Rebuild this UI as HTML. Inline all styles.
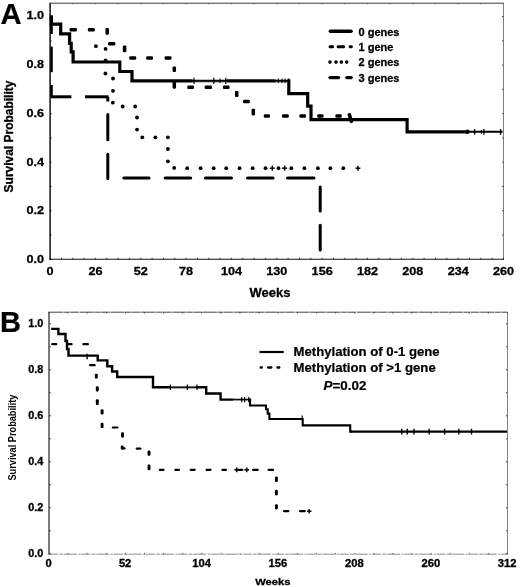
<!DOCTYPE html>
<html><head><meta charset="utf-8"><title>Survival curves</title>
<style>
html,body{margin:0;padding:0;background:#fff;}
body{width:520px;height:587px;overflow:hidden;font-family:"Liberation Sans",sans-serif;}
svg{display:block;filter:grayscale(1);}
text{font-family:"Liberation Sans",sans-serif;}
</style></head><body>
<svg width="520" height="587" viewBox="0 0 520 587">
<rect x="0" y="0" width="520" height="587" fill="#fff"/>
<line x1="50.1" y1="3.2" x2="503.5" y2="3.2" stroke="#3a3a3a" stroke-width="1.0" stroke-linecap="butt"/>
<line x1="503.5" y1="3.2" x2="503.5" y2="259.3" stroke="#707070" stroke-width="0.9" stroke-linecap="butt"/>
<line x1="50.1" y1="2.7" x2="50.1" y2="259.8" stroke="#000" stroke-width="1.4" stroke-linecap="butt"/>
<line x1="49.4" y1="259.3" x2="504.0" y2="259.3" stroke="#111" stroke-width="1.05" stroke-linecap="butt"/>
<line x1="50.1" y1="257.8" x2="50.1" y2="259.3" stroke="#222" stroke-width="0.9" stroke-linecap="butt"/>
<line x1="50.1" y1="3.2" x2="50.1" y2="4.300000000000001" stroke="#555" stroke-width="0.9" stroke-linecap="butt"/>
<line x1="61.435" y1="257.8" x2="61.435" y2="259.3" stroke="#222" stroke-width="0.9" stroke-linecap="butt"/>
<line x1="72.77" y1="257.8" x2="72.77" y2="259.3" stroke="#222" stroke-width="0.9" stroke-linecap="butt"/>
<line x1="72.77" y1="3.2" x2="72.77" y2="4.300000000000001" stroke="#555" stroke-width="0.9" stroke-linecap="butt"/>
<line x1="84.10499999999999" y1="257.8" x2="84.10499999999999" y2="259.3" stroke="#222" stroke-width="0.9" stroke-linecap="butt"/>
<line x1="95.44" y1="257.8" x2="95.44" y2="259.3" stroke="#222" stroke-width="0.9" stroke-linecap="butt"/>
<line x1="95.44" y1="3.2" x2="95.44" y2="4.300000000000001" stroke="#555" stroke-width="0.9" stroke-linecap="butt"/>
<line x1="106.775" y1="257.8" x2="106.775" y2="259.3" stroke="#222" stroke-width="0.9" stroke-linecap="butt"/>
<line x1="118.10999999999999" y1="257.8" x2="118.10999999999999" y2="259.3" stroke="#222" stroke-width="0.9" stroke-linecap="butt"/>
<line x1="118.10999999999999" y1="3.2" x2="118.10999999999999" y2="4.300000000000001" stroke="#555" stroke-width="0.9" stroke-linecap="butt"/>
<line x1="129.445" y1="257.8" x2="129.445" y2="259.3" stroke="#222" stroke-width="0.9" stroke-linecap="butt"/>
<line x1="140.78" y1="257.8" x2="140.78" y2="259.3" stroke="#222" stroke-width="0.9" stroke-linecap="butt"/>
<line x1="140.78" y1="3.2" x2="140.78" y2="4.300000000000001" stroke="#555" stroke-width="0.9" stroke-linecap="butt"/>
<line x1="152.11499999999998" y1="257.8" x2="152.11499999999998" y2="259.3" stroke="#222" stroke-width="0.9" stroke-linecap="butt"/>
<line x1="163.45" y1="257.8" x2="163.45" y2="259.3" stroke="#222" stroke-width="0.9" stroke-linecap="butt"/>
<line x1="163.45" y1="3.2" x2="163.45" y2="4.300000000000001" stroke="#555" stroke-width="0.9" stroke-linecap="butt"/>
<line x1="174.785" y1="257.8" x2="174.785" y2="259.3" stroke="#222" stroke-width="0.9" stroke-linecap="butt"/>
<line x1="186.11999999999998" y1="257.8" x2="186.11999999999998" y2="259.3" stroke="#222" stroke-width="0.9" stroke-linecap="butt"/>
<line x1="186.11999999999998" y1="3.2" x2="186.11999999999998" y2="4.300000000000001" stroke="#555" stroke-width="0.9" stroke-linecap="butt"/>
<line x1="197.45499999999998" y1="257.8" x2="197.45499999999998" y2="259.3" stroke="#222" stroke-width="0.9" stroke-linecap="butt"/>
<line x1="208.79" y1="257.8" x2="208.79" y2="259.3" stroke="#222" stroke-width="0.9" stroke-linecap="butt"/>
<line x1="208.79" y1="3.2" x2="208.79" y2="4.300000000000001" stroke="#555" stroke-width="0.9" stroke-linecap="butt"/>
<line x1="220.125" y1="257.8" x2="220.125" y2="259.3" stroke="#222" stroke-width="0.9" stroke-linecap="butt"/>
<line x1="231.45999999999998" y1="257.8" x2="231.45999999999998" y2="259.3" stroke="#222" stroke-width="0.9" stroke-linecap="butt"/>
<line x1="231.45999999999998" y1="3.2" x2="231.45999999999998" y2="4.300000000000001" stroke="#555" stroke-width="0.9" stroke-linecap="butt"/>
<line x1="242.795" y1="257.8" x2="242.795" y2="259.3" stroke="#222" stroke-width="0.9" stroke-linecap="butt"/>
<line x1="254.12999999999997" y1="257.8" x2="254.12999999999997" y2="259.3" stroke="#222" stroke-width="0.9" stroke-linecap="butt"/>
<line x1="254.12999999999997" y1="3.2" x2="254.12999999999997" y2="4.300000000000001" stroke="#555" stroke-width="0.9" stroke-linecap="butt"/>
<line x1="265.465" y1="257.8" x2="265.465" y2="259.3" stroke="#222" stroke-width="0.9" stroke-linecap="butt"/>
<line x1="276.8" y1="257.8" x2="276.8" y2="259.3" stroke="#222" stroke-width="0.9" stroke-linecap="butt"/>
<line x1="276.8" y1="3.2" x2="276.8" y2="4.300000000000001" stroke="#555" stroke-width="0.9" stroke-linecap="butt"/>
<line x1="288.135" y1="257.8" x2="288.135" y2="259.3" stroke="#222" stroke-width="0.9" stroke-linecap="butt"/>
<line x1="299.46999999999997" y1="257.8" x2="299.46999999999997" y2="259.3" stroke="#222" stroke-width="0.9" stroke-linecap="butt"/>
<line x1="299.46999999999997" y1="3.2" x2="299.46999999999997" y2="4.300000000000001" stroke="#555" stroke-width="0.9" stroke-linecap="butt"/>
<line x1="310.805" y1="257.8" x2="310.805" y2="259.3" stroke="#222" stroke-width="0.9" stroke-linecap="butt"/>
<line x1="322.14" y1="257.8" x2="322.14" y2="259.3" stroke="#222" stroke-width="0.9" stroke-linecap="butt"/>
<line x1="322.14" y1="3.2" x2="322.14" y2="4.300000000000001" stroke="#555" stroke-width="0.9" stroke-linecap="butt"/>
<line x1="333.475" y1="257.8" x2="333.475" y2="259.3" stroke="#222" stroke-width="0.9" stroke-linecap="butt"/>
<line x1="344.81" y1="257.8" x2="344.81" y2="259.3" stroke="#222" stroke-width="0.9" stroke-linecap="butt"/>
<line x1="344.81" y1="3.2" x2="344.81" y2="4.300000000000001" stroke="#555" stroke-width="0.9" stroke-linecap="butt"/>
<line x1="356.14500000000004" y1="257.8" x2="356.14500000000004" y2="259.3" stroke="#222" stroke-width="0.9" stroke-linecap="butt"/>
<line x1="367.48" y1="257.8" x2="367.48" y2="259.3" stroke="#222" stroke-width="0.9" stroke-linecap="butt"/>
<line x1="367.48" y1="3.2" x2="367.48" y2="4.300000000000001" stroke="#555" stroke-width="0.9" stroke-linecap="butt"/>
<line x1="378.815" y1="257.8" x2="378.815" y2="259.3" stroke="#222" stroke-width="0.9" stroke-linecap="butt"/>
<line x1="390.15000000000003" y1="257.8" x2="390.15000000000003" y2="259.3" stroke="#222" stroke-width="0.9" stroke-linecap="butt"/>
<line x1="390.15000000000003" y1="3.2" x2="390.15000000000003" y2="4.300000000000001" stroke="#555" stroke-width="0.9" stroke-linecap="butt"/>
<line x1="401.485" y1="257.8" x2="401.485" y2="259.3" stroke="#222" stroke-width="0.9" stroke-linecap="butt"/>
<line x1="412.82" y1="257.8" x2="412.82" y2="259.3" stroke="#222" stroke-width="0.9" stroke-linecap="butt"/>
<line x1="412.82" y1="3.2" x2="412.82" y2="4.300000000000001" stroke="#555" stroke-width="0.9" stroke-linecap="butt"/>
<line x1="424.155" y1="257.8" x2="424.155" y2="259.3" stroke="#222" stroke-width="0.9" stroke-linecap="butt"/>
<line x1="435.49" y1="257.8" x2="435.49" y2="259.3" stroke="#222" stroke-width="0.9" stroke-linecap="butt"/>
<line x1="435.49" y1="3.2" x2="435.49" y2="4.300000000000001" stroke="#555" stroke-width="0.9" stroke-linecap="butt"/>
<line x1="446.82500000000005" y1="257.8" x2="446.82500000000005" y2="259.3" stroke="#222" stroke-width="0.9" stroke-linecap="butt"/>
<line x1="458.15999999999997" y1="257.8" x2="458.15999999999997" y2="259.3" stroke="#222" stroke-width="0.9" stroke-linecap="butt"/>
<line x1="458.15999999999997" y1="3.2" x2="458.15999999999997" y2="4.300000000000001" stroke="#555" stroke-width="0.9" stroke-linecap="butt"/>
<line x1="469.495" y1="257.8" x2="469.495" y2="259.3" stroke="#222" stroke-width="0.9" stroke-linecap="butt"/>
<line x1="480.83" y1="257.8" x2="480.83" y2="259.3" stroke="#222" stroke-width="0.9" stroke-linecap="butt"/>
<line x1="480.83" y1="3.2" x2="480.83" y2="4.300000000000001" stroke="#555" stroke-width="0.9" stroke-linecap="butt"/>
<line x1="492.165" y1="257.8" x2="492.165" y2="259.3" stroke="#222" stroke-width="0.9" stroke-linecap="butt"/>
<line x1="503.5" y1="257.8" x2="503.5" y2="259.3" stroke="#222" stroke-width="0.9" stroke-linecap="butt"/>
<line x1="503.5" y1="3.2" x2="503.5" y2="4.300000000000001" stroke="#555" stroke-width="0.9" stroke-linecap="butt"/>
<line x1="50.1" y1="259.3" x2="51.6" y2="259.3" stroke="#000" stroke-width="0.8" stroke-linecap="butt"/>
<line x1="502.1" y1="259.3" x2="503.5" y2="259.3" stroke="#444" stroke-width="1.0" stroke-linecap="butt"/>
<line x1="50.1" y1="235.02" x2="51.6" y2="235.02" stroke="#000" stroke-width="0.8" stroke-linecap="butt"/>
<line x1="502.1" y1="235.02" x2="503.5" y2="235.02" stroke="#444" stroke-width="1.0" stroke-linecap="butt"/>
<line x1="50.1" y1="210.74" x2="51.6" y2="210.74" stroke="#000" stroke-width="0.8" stroke-linecap="butt"/>
<line x1="502.1" y1="210.74" x2="503.5" y2="210.74" stroke="#444" stroke-width="1.0" stroke-linecap="butt"/>
<line x1="50.1" y1="186.45999999999998" x2="51.6" y2="186.45999999999998" stroke="#000" stroke-width="0.8" stroke-linecap="butt"/>
<line x1="502.1" y1="186.45999999999998" x2="503.5" y2="186.45999999999998" stroke="#444" stroke-width="1.0" stroke-linecap="butt"/>
<line x1="50.1" y1="162.18" x2="51.6" y2="162.18" stroke="#000" stroke-width="0.8" stroke-linecap="butt"/>
<line x1="502.1" y1="162.18" x2="503.5" y2="162.18" stroke="#444" stroke-width="1.0" stroke-linecap="butt"/>
<line x1="50.1" y1="137.9" x2="51.6" y2="137.9" stroke="#000" stroke-width="0.8" stroke-linecap="butt"/>
<line x1="502.1" y1="137.9" x2="503.5" y2="137.9" stroke="#444" stroke-width="1.0" stroke-linecap="butt"/>
<line x1="50.1" y1="113.61999999999998" x2="51.6" y2="113.61999999999998" stroke="#000" stroke-width="0.8" stroke-linecap="butt"/>
<line x1="502.1" y1="113.61999999999998" x2="503.5" y2="113.61999999999998" stroke="#444" stroke-width="1.0" stroke-linecap="butt"/>
<line x1="50.1" y1="89.33999999999997" x2="51.6" y2="89.33999999999997" stroke="#000" stroke-width="0.8" stroke-linecap="butt"/>
<line x1="502.1" y1="89.33999999999997" x2="503.5" y2="89.33999999999997" stroke="#444" stroke-width="1.0" stroke-linecap="butt"/>
<line x1="50.1" y1="65.06" x2="51.6" y2="65.06" stroke="#000" stroke-width="0.8" stroke-linecap="butt"/>
<line x1="502.1" y1="65.06" x2="503.5" y2="65.06" stroke="#444" stroke-width="1.0" stroke-linecap="butt"/>
<line x1="50.1" y1="40.78" x2="51.6" y2="40.78" stroke="#000" stroke-width="0.8" stroke-linecap="butt"/>
<line x1="502.1" y1="40.78" x2="503.5" y2="40.78" stroke="#444" stroke-width="1.0" stroke-linecap="butt"/>
<line x1="50.1" y1="16.5" x2="51.6" y2="16.5" stroke="#000" stroke-width="0.8" stroke-linecap="butt"/>
<line x1="502.1" y1="16.5" x2="503.5" y2="16.5" stroke="#444" stroke-width="1.0" stroke-linecap="butt"/>
<text transform="translate(44.0,263.0) scale(1.07,1)" font-size="11.8" font-weight="bold" text-anchor="end" stroke="#000" stroke-width="0.3">0.0</text>
<text transform="translate(44.0,214.28) scale(1.07,1)" font-size="11.8" font-weight="bold" text-anchor="end" stroke="#000" stroke-width="0.3">0.2</text>
<text transform="translate(44.0,165.56) scale(1.07,1)" font-size="11.8" font-weight="bold" text-anchor="end" stroke="#000" stroke-width="0.3">0.4</text>
<text transform="translate(44.0,116.84) scale(1.07,1)" font-size="11.8" font-weight="bold" text-anchor="end" stroke="#000" stroke-width="0.3">0.6</text>
<text transform="translate(44.0,68.12) scale(1.07,1)" font-size="11.8" font-weight="bold" text-anchor="end" stroke="#000" stroke-width="0.3">0.8</text>
<text transform="translate(44.0,19.4) scale(1.07,1)" font-size="11.8" font-weight="bold" text-anchor="end" stroke="#000" stroke-width="0.3">1.0</text>
<text transform="translate(50.1,275.3) scale(1.09,1)" font-size="11.6" font-weight="bold" text-anchor="middle" stroke="#000" stroke-width="0.3">0</text>
<text transform="translate(95.44,275.3) scale(1.09,1)" font-size="11.6" font-weight="bold" text-anchor="middle" stroke="#000" stroke-width="0.3">26</text>
<text transform="translate(140.78,275.3) scale(1.09,1)" font-size="11.6" font-weight="bold" text-anchor="middle" stroke="#000" stroke-width="0.3">52</text>
<text transform="translate(186.12,275.3) scale(1.09,1)" font-size="11.6" font-weight="bold" text-anchor="middle" stroke="#000" stroke-width="0.3">78</text>
<text transform="translate(231.46,275.3) scale(1.09,1)" font-size="11.6" font-weight="bold" text-anchor="middle" stroke="#000" stroke-width="0.3">104</text>
<text transform="translate(276.8,275.3) scale(1.09,1)" font-size="11.6" font-weight="bold" text-anchor="middle" stroke="#000" stroke-width="0.3">130</text>
<text transform="translate(322.14,275.3) scale(1.09,1)" font-size="11.6" font-weight="bold" text-anchor="middle" stroke="#000" stroke-width="0.3">156</text>
<text transform="translate(367.48,275.3) scale(1.09,1)" font-size="11.6" font-weight="bold" text-anchor="middle" stroke="#000" stroke-width="0.3">182</text>
<text transform="translate(412.82,275.3) scale(1.09,1)" font-size="11.6" font-weight="bold" text-anchor="middle" stroke="#000" stroke-width="0.3">208</text>
<text transform="translate(458.16,275.3) scale(1.09,1)" font-size="11.6" font-weight="bold" text-anchor="middle" stroke="#000" stroke-width="0.3">234</text>
<text transform="translate(503.5,275.3) scale(1.09,1)" font-size="11.6" font-weight="bold" text-anchor="middle" stroke="#000" stroke-width="0.3">260</text>
<text x="270" y="296.6" font-size="13" font-weight="bold" text-anchor="middle"  stroke="#000" stroke-width="0.3">Weeks</text>
<text transform="translate(12.6,136.5) rotate(-90) scale(1,1.07)" font-size="12" font-weight="bold" text-anchor="middle" stroke="#000" stroke-width="0.3">Survival Probability</text>
<text x="0.6" y="24.2" font-size="29.2" font-weight="bold" text-anchor="start"  stroke="#000" stroke-width="0.2">A</text>
<line x1="51.5" y1="15.2" x2="51.5" y2="34" stroke="#000" stroke-width="2.6" stroke-linecap="butt"/>
<line x1="51.5" y1="46.6" x2="51.5" y2="72.2" stroke="#000" stroke-width="2.6" stroke-linecap="butt"/>
<line x1="51.5" y1="85" x2="51.5" y2="97" stroke="#000" stroke-width="2.6" stroke-linecap="butt"/>
<line x1="51" y1="96.8" x2="71.4" y2="96.8" stroke="#000" stroke-width="3.0" stroke-linecap="butt"/>
<line x1="85" y1="96.8" x2="108.5" y2="96.8" stroke="#000" stroke-width="3.0" stroke-linecap="butt"/>
<line x1="107.8" y1="96.8" x2="107.8" y2="101.5" stroke="#000" stroke-width="3.0" stroke-linecap="butt"/>
<line x1="107.8" y1="114.6" x2="107.8" y2="139.8" stroke="#000" stroke-width="3.0" stroke-linecap="round"/>
<line x1="107.8" y1="154.3" x2="107.8" y2="178.6" stroke="#000" stroke-width="3.0" stroke-linecap="round"/>
<line x1="123.8" y1="178.0" x2="149.0" y2="178.0" stroke="#000" stroke-width="3.0" stroke-linecap="round"/>
<line x1="165.2" y1="178.0" x2="190.7" y2="178.0" stroke="#000" stroke-width="3.0" stroke-linecap="round"/>
<line x1="205.5" y1="178.0" x2="231.5" y2="178.0" stroke="#000" stroke-width="3.0" stroke-linecap="round"/>
<line x1="247.5" y1="178.0" x2="273" y2="178.0" stroke="#000" stroke-width="3.0" stroke-linecap="round"/>
<line x1="287.5" y1="178.0" x2="314" y2="178.0" stroke="#000" stroke-width="3.0" stroke-linecap="round"/>
<line x1="320.2" y1="187" x2="320.2" y2="211" stroke="#000" stroke-width="3.0" stroke-linecap="round"/>
<line x1="320.2" y1="225.3" x2="320.2" y2="250" stroke="#000" stroke-width="3.0" stroke-linecap="round"/>
<circle cx="95.9" cy="46.2" r="1.9" fill="#000"/>
<circle cx="105.6" cy="48.9" r="1.9" fill="#000"/>
<circle cx="105.6" cy="60.4" r="1.9" fill="#000"/>
<circle cx="105.4" cy="73.5" r="1.9" fill="#000"/>
<circle cx="113" cy="78.5" r="1.9" fill="#000"/>
<circle cx="113" cy="90.8" r="1.9" fill="#000"/>
<circle cx="112.8" cy="102.7" r="1.9" fill="#000"/>
<circle cx="122.7" cy="106.5" r="1.9" fill="#000"/>
<circle cx="135.2" cy="106.5" r="1.9" fill="#000"/>
<circle cx="137" cy="117.5" r="1.9" fill="#000"/>
<circle cx="137" cy="129.6" r="1.9" fill="#000"/>
<circle cx="142.3" cy="137.3" r="1.9" fill="#000"/>
<circle cx="155.4" cy="137.3" r="1.9" fill="#000"/>
<circle cx="167.9" cy="137.3" r="1.9" fill="#000"/>
<circle cx="167.9" cy="149" r="1.9" fill="#000"/>
<circle cx="167.9" cy="161.3" r="1.9" fill="#000"/>
<circle cx="174.2" cy="167.9" r="1.9" fill="#000"/>
<circle cx="187.2" cy="168.2" r="1.9" fill="#000"/>
<circle cx="200.6" cy="168.2" r="1.9" fill="#000"/>
<circle cx="213.7" cy="168.2" r="1.9" fill="#000"/>
<circle cx="226.2" cy="168.2" r="1.9" fill="#000"/>
<circle cx="239.6" cy="168.2" r="1.9" fill="#000"/>
<circle cx="252.7" cy="168.2" r="1.9" fill="#000"/>
<circle cx="265.5" cy="168.2" r="1.9" fill="#000"/>
<circle cx="278.5" cy="168.2" r="1.9" fill="#000"/>
<circle cx="291.3" cy="168.2" r="1.9" fill="#000"/>
<circle cx="304.4" cy="168.2" r="1.9" fill="#000"/>
<circle cx="317.9" cy="168.2" r="1.9" fill="#000"/>
<circle cx="330.4" cy="168.2" r="1.9" fill="#000"/>
<circle cx="343.3" cy="168.2" r="1.9" fill="#000"/>
<line x1="269.8" y1="168.2" x2="274.8" y2="168.2" stroke="#000" stroke-width="1.45" stroke-linecap="butt"/>
<line x1="272.3" y1="165.7" x2="272.3" y2="170.7" stroke="#000" stroke-width="1.45" stroke-linecap="butt"/>
<line x1="282.1" y1="168.2" x2="287.1" y2="168.2" stroke="#000" stroke-width="1.45" stroke-linecap="butt"/>
<line x1="284.6" y1="165.7" x2="284.6" y2="170.7" stroke="#000" stroke-width="1.45" stroke-linecap="butt"/>
<line x1="355.4" y1="168.2" x2="360.4" y2="168.2" stroke="#000" stroke-width="1.45" stroke-linecap="butt"/>
<line x1="357.9" y1="165.7" x2="357.9" y2="170.7" stroke="#000" stroke-width="1.45" stroke-linecap="butt"/>
<rect x="69.6" y="28.05" width="7.3" height="3.5" rx="1.1" fill="#000"/>
<rect x="87.9" y="28.05" width="6.9" height="3.5" rx="1.1" fill="#000"/>
<rect x="105.45" y="28.0" width="3.5" height="6.7" rx="1.1" fill="#000"/>
<rect x="108" y="42.05" width="7.4" height="3.5" rx="1.1" fill="#000"/>
<rect x="122.85" y="45.4" width="3.5" height="6.9" rx="1.1" fill="#000"/>
<rect x="129.2" y="56.25" width="7.0" height="3.5" rx="1.1" fill="#000"/>
<rect x="146.2" y="56.25" width="6.8" height="3.5" rx="1.1" fill="#000"/>
<rect x="164.6" y="56.25" width="6.9" height="3.5" rx="1.1" fill="#000"/>
<rect x="172.55" y="66.5" width="3.5" height="5.5" rx="1.1" fill="#000"/>
<rect x="172.55" y="81.5" width="3.5" height="7.2" rx="1.1" fill="#000"/>
<rect x="187.3" y="85.55" width="6.7" height="3.5" rx="1.1" fill="#000"/>
<rect x="204.6" y="85.55" width="7.4" height="3.5" rx="1.1" fill="#000"/>
<rect x="222.9" y="85.55" width="6.7" height="3.5" rx="1.1" fill="#000"/>
<rect x="234.95" y="91" width="3.5" height="6" rx="1.1" fill="#000"/>
<rect x="243" y="99.75" width="6.8" height="3.5" rx="1.1" fill="#000"/>
<rect x="251.55" y="108.7" width="3.5" height="6.7" rx="1.1" fill="#000"/>
<rect x="263.8" y="114.25" width="6.2" height="3.5" rx="1.1" fill="#000"/>
<rect x="282" y="114.25" width="6.8" height="3.5" rx="1.1" fill="#000"/>
<rect x="299.4" y="114.25" width="6.6" height="3.5" rx="1.1" fill="#000"/>
<rect x="317.3" y="114.25" width="6.2" height="3.5" rx="1.1" fill="#000"/>
<rect x="335.4" y="114.25" width="6.3" height="3.5" rx="1.1" fill="#000"/>
<line x1="349.4" y1="114.8" x2="351.4" y2="121.3" stroke="#000" stroke-width="3.6" stroke-linecap="round"/>
<path d="M51.3,16 V24.1 H60.7 V33.9 H69.6 V43.4 H71.2 V51.9 H73.1 V62 H119.8 V71.5 H132 V80.9 H288.8 V93.7 H307.7 V106.2 H311 V119.7 H407.1 V131.8 H468" fill="none" stroke="#000" stroke-width="3.2" stroke-linejoin="miter"/>
<line x1="467" y1="131.8" x2="502.6" y2="131.8" stroke="#000" stroke-width="2.0" stroke-linecap="butt"/>
<line x1="192.5" y1="79.55" x2="227" y2="79.55" stroke="#fff" stroke-width="0.7" stroke-linecap="butt"/>
<line x1="192.5" y1="82.25" x2="227" y2="82.25" stroke="#fff" stroke-width="0.7" stroke-linecap="butt"/>
<line x1="275.5" y1="79.55" x2="287.2" y2="79.55" stroke="#fff" stroke-width="0.7" stroke-linecap="butt"/>
<line x1="275.5" y1="82.25" x2="287.2" y2="82.25" stroke="#fff" stroke-width="0.7" stroke-linecap="butt"/>
<line x1="194" y1="77.7" x2="194" y2="84.1" stroke="#000" stroke-width="1.2" stroke-linecap="butt"/>
<line x1="213.8" y1="77.7" x2="213.8" y2="84.1" stroke="#000" stroke-width="1.2" stroke-linecap="butt"/>
<line x1="225.8" y1="77.7" x2="225.8" y2="84.1" stroke="#000" stroke-width="1.2" stroke-linecap="butt"/>
<line x1="220" y1="78.4" x2="220" y2="83.2" stroke="#000" stroke-width="1.0" stroke-linecap="butt"/>
<line x1="278.3" y1="78.4" x2="278.3" y2="83.2" stroke="#000" stroke-width="1.0" stroke-linecap="butt"/>
<line x1="282" y1="78.4" x2="282" y2="83.2" stroke="#000" stroke-width="1.0" stroke-linecap="butt"/>
<line x1="285" y1="78.4" x2="285" y2="83.2" stroke="#000" stroke-width="1.0" stroke-linecap="butt"/>
<line x1="288.6" y1="78.4" x2="288.6" y2="83.2" stroke="#000" stroke-width="1.0" stroke-linecap="butt"/>
<circle cx="467.5" cy="131.8" r="2.2" fill="#000"/>
<line x1="474.6" y1="129" x2="474.6" y2="134.8" stroke="#000" stroke-width="1.3" stroke-linecap="butt"/>
<line x1="483.9" y1="129" x2="483.9" y2="134.8" stroke="#000" stroke-width="1.3" stroke-linecap="butt"/>
<line x1="500.6" y1="129" x2="500.6" y2="134.8" stroke="#000" stroke-width="1.3" stroke-linecap="butt"/>
<line x1="481.3" y1="129.8" x2="481.3" y2="133.8" stroke="#000" stroke-width="1.0" stroke-linecap="butt"/>
<line x1="330.4" y1="31.2" x2="351.0" y2="31.2" stroke="#000" stroke-width="3.6" stroke-linecap="round"/>
<rect x="328.7" y="45.25" width="5.3" height="3.1" rx="1.1" fill="#000"/>
<rect x="336.8" y="45.25" width="8.2" height="3.1" rx="1.1" fill="#000"/>
<rect x="348.8" y="45.25" width="3.9" height="3.1" rx="1.1" fill="#000"/>
<circle cx="330" cy="62.1" r="1.8" fill="#000"/>
<circle cx="336" cy="62.1" r="1.8" fill="#000"/>
<circle cx="341.3" cy="62.1" r="1.8" fill="#000"/>
<circle cx="346.7" cy="62.1" r="1.8" fill="#000"/>
<line x1="330" y1="77.6" x2="338.6" y2="77.6" stroke="#000" stroke-width="3.3" stroke-linecap="round"/>
<line x1="346.8" y1="77.6" x2="351.2" y2="77.6" stroke="#000" stroke-width="3.3" stroke-linecap="round"/>
<text x="358.5" y="35.5" font-size="11" font-weight="bold" text-anchor="start"  stroke="#000" stroke-width="0.3">0 genes</text>
<text x="358.5" y="50.9" font-size="11" font-weight="bold" text-anchor="start"  stroke="#000" stroke-width="0.3">1 gene</text>
<text x="358.5" y="66.3" font-size="11" font-weight="bold" text-anchor="start"  stroke="#000" stroke-width="0.3">2 genes</text>
<text x="358.5" y="81.7" font-size="11" font-weight="bold" text-anchor="start"  stroke="#000" stroke-width="0.3">3 genes</text>
<path d="M49,312.2 H507.5" stroke="#3c3c3c" stroke-width="0.95" stroke-dasharray="14 0.6 6 0.5 9 0.7" fill="none"/>
<path d="M507.5,312.2 V554.2" stroke="#777" stroke-width="0.9" fill="none"/>
<line x1="49" y1="311.8" x2="49" y2="554.6" stroke="#222" stroke-width="1.2" stroke-linecap="butt"/>
<path d="M49,554.2 H507.5" stroke="#808080" stroke-width="0.9" stroke-dasharray="9 1.2 4 0.8 13 1.5 2 0.8" fill="none"/>
<line x1="49.0" y1="552.9000000000001" x2="49.0" y2="554.2" stroke="#555" stroke-width="0.9" stroke-linecap="butt"/>
<line x1="49.0" y1="312.2" x2="49.0" y2="313.59999999999997" stroke="#444" stroke-width="0.9" stroke-linecap="butt"/>
<line x1="68.10416666666667" y1="552.9000000000001" x2="68.10416666666667" y2="554.2" stroke="#555" stroke-width="0.9" stroke-linecap="butt"/>
<line x1="68.10416666666667" y1="312.2" x2="68.10416666666667" y2="313.59999999999997" stroke="#444" stroke-width="0.9" stroke-linecap="butt"/>
<line x1="87.20833333333334" y1="552.9000000000001" x2="87.20833333333334" y2="554.2" stroke="#555" stroke-width="0.9" stroke-linecap="butt"/>
<line x1="87.20833333333334" y1="312.2" x2="87.20833333333334" y2="313.59999999999997" stroke="#444" stroke-width="0.9" stroke-linecap="butt"/>
<line x1="106.3125" y1="552.9000000000001" x2="106.3125" y2="554.2" stroke="#555" stroke-width="0.9" stroke-linecap="butt"/>
<line x1="106.3125" y1="312.2" x2="106.3125" y2="313.59999999999997" stroke="#444" stroke-width="0.9" stroke-linecap="butt"/>
<line x1="125.41666666666667" y1="552.9000000000001" x2="125.41666666666667" y2="554.2" stroke="#555" stroke-width="0.9" stroke-linecap="butt"/>
<line x1="125.41666666666667" y1="312.2" x2="125.41666666666667" y2="313.59999999999997" stroke="#444" stroke-width="0.9" stroke-linecap="butt"/>
<line x1="144.52083333333331" y1="552.9000000000001" x2="144.52083333333331" y2="554.2" stroke="#555" stroke-width="0.9" stroke-linecap="butt"/>
<line x1="144.52083333333331" y1="312.2" x2="144.52083333333331" y2="313.59999999999997" stroke="#444" stroke-width="0.9" stroke-linecap="butt"/>
<line x1="163.625" y1="552.9000000000001" x2="163.625" y2="554.2" stroke="#555" stroke-width="0.9" stroke-linecap="butt"/>
<line x1="163.625" y1="312.2" x2="163.625" y2="313.59999999999997" stroke="#444" stroke-width="0.9" stroke-linecap="butt"/>
<line x1="182.72916666666666" y1="552.9000000000001" x2="182.72916666666666" y2="554.2" stroke="#555" stroke-width="0.9" stroke-linecap="butt"/>
<line x1="182.72916666666666" y1="312.2" x2="182.72916666666666" y2="313.59999999999997" stroke="#444" stroke-width="0.9" stroke-linecap="butt"/>
<line x1="201.83333333333334" y1="552.9000000000001" x2="201.83333333333334" y2="554.2" stroke="#555" stroke-width="0.9" stroke-linecap="butt"/>
<line x1="201.83333333333334" y1="312.2" x2="201.83333333333334" y2="313.59999999999997" stroke="#444" stroke-width="0.9" stroke-linecap="butt"/>
<line x1="220.9375" y1="552.9000000000001" x2="220.9375" y2="554.2" stroke="#555" stroke-width="0.9" stroke-linecap="butt"/>
<line x1="220.9375" y1="312.2" x2="220.9375" y2="313.59999999999997" stroke="#444" stroke-width="0.9" stroke-linecap="butt"/>
<line x1="240.04166666666666" y1="552.9000000000001" x2="240.04166666666666" y2="554.2" stroke="#555" stroke-width="0.9" stroke-linecap="butt"/>
<line x1="240.04166666666666" y1="312.2" x2="240.04166666666666" y2="313.59999999999997" stroke="#444" stroke-width="0.9" stroke-linecap="butt"/>
<line x1="259.14583333333337" y1="552.9000000000001" x2="259.14583333333337" y2="554.2" stroke="#555" stroke-width="0.9" stroke-linecap="butt"/>
<line x1="259.14583333333337" y1="312.2" x2="259.14583333333337" y2="313.59999999999997" stroke="#444" stroke-width="0.9" stroke-linecap="butt"/>
<line x1="278.25" y1="552.9000000000001" x2="278.25" y2="554.2" stroke="#555" stroke-width="0.9" stroke-linecap="butt"/>
<line x1="278.25" y1="312.2" x2="278.25" y2="313.59999999999997" stroke="#444" stroke-width="0.9" stroke-linecap="butt"/>
<line x1="297.35416666666663" y1="552.9000000000001" x2="297.35416666666663" y2="554.2" stroke="#555" stroke-width="0.9" stroke-linecap="butt"/>
<line x1="297.35416666666663" y1="312.2" x2="297.35416666666663" y2="313.59999999999997" stroke="#444" stroke-width="0.9" stroke-linecap="butt"/>
<line x1="316.4583333333333" y1="552.9000000000001" x2="316.4583333333333" y2="554.2" stroke="#555" stroke-width="0.9" stroke-linecap="butt"/>
<line x1="316.4583333333333" y1="312.2" x2="316.4583333333333" y2="313.59999999999997" stroke="#444" stroke-width="0.9" stroke-linecap="butt"/>
<line x1="335.5625" y1="552.9000000000001" x2="335.5625" y2="554.2" stroke="#555" stroke-width="0.9" stroke-linecap="butt"/>
<line x1="335.5625" y1="312.2" x2="335.5625" y2="313.59999999999997" stroke="#444" stroke-width="0.9" stroke-linecap="butt"/>
<line x1="354.6666666666667" y1="552.9000000000001" x2="354.6666666666667" y2="554.2" stroke="#555" stroke-width="0.9" stroke-linecap="butt"/>
<line x1="354.6666666666667" y1="312.2" x2="354.6666666666667" y2="313.59999999999997" stroke="#444" stroke-width="0.9" stroke-linecap="butt"/>
<line x1="373.7708333333333" y1="552.9000000000001" x2="373.7708333333333" y2="554.2" stroke="#555" stroke-width="0.9" stroke-linecap="butt"/>
<line x1="373.7708333333333" y1="312.2" x2="373.7708333333333" y2="313.59999999999997" stroke="#444" stroke-width="0.9" stroke-linecap="butt"/>
<line x1="392.875" y1="552.9000000000001" x2="392.875" y2="554.2" stroke="#555" stroke-width="0.9" stroke-linecap="butt"/>
<line x1="392.875" y1="312.2" x2="392.875" y2="313.59999999999997" stroke="#444" stroke-width="0.9" stroke-linecap="butt"/>
<line x1="411.9791666666667" y1="552.9000000000001" x2="411.9791666666667" y2="554.2" stroke="#555" stroke-width="0.9" stroke-linecap="butt"/>
<line x1="411.9791666666667" y1="312.2" x2="411.9791666666667" y2="313.59999999999997" stroke="#444" stroke-width="0.9" stroke-linecap="butt"/>
<line x1="431.0833333333333" y1="552.9000000000001" x2="431.0833333333333" y2="554.2" stroke="#555" stroke-width="0.9" stroke-linecap="butt"/>
<line x1="431.0833333333333" y1="312.2" x2="431.0833333333333" y2="313.59999999999997" stroke="#444" stroke-width="0.9" stroke-linecap="butt"/>
<line x1="450.1875" y1="552.9000000000001" x2="450.1875" y2="554.2" stroke="#555" stroke-width="0.9" stroke-linecap="butt"/>
<line x1="450.1875" y1="312.2" x2="450.1875" y2="313.59999999999997" stroke="#444" stroke-width="0.9" stroke-linecap="butt"/>
<line x1="469.2916666666667" y1="552.9000000000001" x2="469.2916666666667" y2="554.2" stroke="#555" stroke-width="0.9" stroke-linecap="butt"/>
<line x1="469.2916666666667" y1="312.2" x2="469.2916666666667" y2="313.59999999999997" stroke="#444" stroke-width="0.9" stroke-linecap="butt"/>
<line x1="488.3958333333333" y1="552.9000000000001" x2="488.3958333333333" y2="554.2" stroke="#555" stroke-width="0.9" stroke-linecap="butt"/>
<line x1="488.3958333333333" y1="312.2" x2="488.3958333333333" y2="313.59999999999997" stroke="#444" stroke-width="0.9" stroke-linecap="butt"/>
<line x1="507.5" y1="552.9000000000001" x2="507.5" y2="554.2" stroke="#555" stroke-width="0.9" stroke-linecap="butt"/>
<line x1="507.5" y1="312.2" x2="507.5" y2="313.59999999999997" stroke="#444" stroke-width="0.9" stroke-linecap="butt"/>
<line x1="49" y1="553.8" x2="50.8" y2="553.8" stroke="#333" stroke-width="1.0" stroke-linecap="butt"/>
<line x1="505.9" y1="553.8" x2="507.5" y2="553.8" stroke="#444" stroke-width="1.0" stroke-linecap="butt"/>
<line x1="49" y1="530.8" x2="50.8" y2="530.8" stroke="#333" stroke-width="1.0" stroke-linecap="butt"/>
<line x1="505.9" y1="530.8" x2="507.5" y2="530.8" stroke="#444" stroke-width="1.0" stroke-linecap="butt"/>
<line x1="49" y1="507.79999999999995" x2="50.8" y2="507.79999999999995" stroke="#333" stroke-width="1.0" stroke-linecap="butt"/>
<line x1="505.9" y1="507.79999999999995" x2="507.5" y2="507.79999999999995" stroke="#444" stroke-width="1.0" stroke-linecap="butt"/>
<line x1="49" y1="484.79999999999995" x2="50.8" y2="484.79999999999995" stroke="#333" stroke-width="1.0" stroke-linecap="butt"/>
<line x1="505.9" y1="484.79999999999995" x2="507.5" y2="484.79999999999995" stroke="#444" stroke-width="1.0" stroke-linecap="butt"/>
<line x1="49" y1="461.79999999999995" x2="50.8" y2="461.79999999999995" stroke="#333" stroke-width="1.0" stroke-linecap="butt"/>
<line x1="505.9" y1="461.79999999999995" x2="507.5" y2="461.79999999999995" stroke="#444" stroke-width="1.0" stroke-linecap="butt"/>
<line x1="49" y1="438.79999999999995" x2="50.8" y2="438.79999999999995" stroke="#333" stroke-width="1.0" stroke-linecap="butt"/>
<line x1="505.9" y1="438.79999999999995" x2="507.5" y2="438.79999999999995" stroke="#444" stroke-width="1.0" stroke-linecap="butt"/>
<line x1="49" y1="415.79999999999995" x2="50.8" y2="415.79999999999995" stroke="#333" stroke-width="1.0" stroke-linecap="butt"/>
<line x1="505.9" y1="415.79999999999995" x2="507.5" y2="415.79999999999995" stroke="#444" stroke-width="1.0" stroke-linecap="butt"/>
<line x1="49" y1="392.79999999999995" x2="50.8" y2="392.79999999999995" stroke="#333" stroke-width="1.0" stroke-linecap="butt"/>
<line x1="505.9" y1="392.79999999999995" x2="507.5" y2="392.79999999999995" stroke="#444" stroke-width="1.0" stroke-linecap="butt"/>
<line x1="49" y1="369.79999999999995" x2="50.8" y2="369.79999999999995" stroke="#333" stroke-width="1.0" stroke-linecap="butt"/>
<line x1="505.9" y1="369.79999999999995" x2="507.5" y2="369.79999999999995" stroke="#444" stroke-width="1.0" stroke-linecap="butt"/>
<line x1="49" y1="346.79999999999995" x2="50.8" y2="346.79999999999995" stroke="#333" stroke-width="1.0" stroke-linecap="butt"/>
<line x1="505.9" y1="346.79999999999995" x2="507.5" y2="346.79999999999995" stroke="#444" stroke-width="1.0" stroke-linecap="butt"/>
<line x1="49" y1="323.79999999999995" x2="50.8" y2="323.79999999999995" stroke="#333" stroke-width="1.0" stroke-linecap="butt"/>
<line x1="505.9" y1="323.79999999999995" x2="507.5" y2="323.79999999999995" stroke="#444" stroke-width="1.0" stroke-linecap="butt"/>
<text transform="translate(43.2,557.4) scale(1.05,1)" font-size="10.3" font-weight="bold" text-anchor="end" stroke="#000" stroke-width="0.3">0.0</text>
<text transform="translate(43.2,511.4) scale(1.05,1)" font-size="10.3" font-weight="bold" text-anchor="end" stroke="#000" stroke-width="0.3">0.2</text>
<text transform="translate(43.2,465.4) scale(1.05,1)" font-size="10.3" font-weight="bold" text-anchor="end" stroke="#000" stroke-width="0.3">0.4</text>
<text transform="translate(43.2,419.4) scale(1.05,1)" font-size="10.3" font-weight="bold" text-anchor="end" stroke="#000" stroke-width="0.3">0.6</text>
<text transform="translate(43.2,373.4) scale(1.05,1)" font-size="10.3" font-weight="bold" text-anchor="end" stroke="#000" stroke-width="0.3">0.8</text>
<text transform="translate(43.2,327.4) scale(1.05,1)" font-size="10.3" font-weight="bold" text-anchor="end" stroke="#000" stroke-width="0.3">1.0</text>
<text transform="translate(48.7,567.0) scale(1.12,1)" font-size="10.0" font-weight="bold" text-anchor="middle" stroke="#000" stroke-width="0.3">0</text>
<text transform="translate(125.11666666666667,567.0) scale(1.12,1)" font-size="10.0" font-weight="bold" text-anchor="middle" stroke="#000" stroke-width="0.3">52</text>
<text transform="translate(201.53333333333333,567.0) scale(1.12,1)" font-size="10.0" font-weight="bold" text-anchor="middle" stroke="#000" stroke-width="0.3">104</text>
<text transform="translate(277.95,567.0) scale(1.12,1)" font-size="10.0" font-weight="bold" text-anchor="middle" stroke="#000" stroke-width="0.3">156</text>
<text transform="translate(354.3666666666667,567.0) scale(1.12,1)" font-size="10.0" font-weight="bold" text-anchor="middle" stroke="#000" stroke-width="0.3">208</text>
<text transform="translate(430.7833333333333,567.0) scale(1.12,1)" font-size="10.0" font-weight="bold" text-anchor="middle" stroke="#000" stroke-width="0.3">260</text>
<text transform="translate(507.2,567.0) scale(1.12,1)" font-size="10.0" font-weight="bold" text-anchor="middle" stroke="#000" stroke-width="0.3">312</text>
<text x="255.2" y="584.5" font-size="9.9" font-weight="bold" text-anchor="start"  stroke="#000" stroke-width="0.3" textLength="35.2" lengthAdjust="spacingAndGlyphs">Weeks</text>
<text transform="translate(16.2,437.6) rotate(-90) scale(1,1.16)" font-size="9.2" font-weight="bold" text-anchor="middle" >Survival Probability</text>
<text x="0.0" y="332.2" font-size="29" font-weight="bold" text-anchor="start"  stroke="#000" stroke-width="0.2">B</text>
<rect x="51.2" y="343.09999999999997" width="6.1" height="2.2" rx="1.1" fill="#000"/>
<rect x="67" y="343.09999999999997" width="5.7" height="2.2" rx="1.1" fill="#000"/>
<rect x="82.3" y="343.09999999999997" width="6.7" height="2.2" rx="1.1" fill="#000"/>
<rect x="89" y="364.09999999999997" width="6.8" height="2.2" rx="1.1" fill="#000"/>
<rect x="94.85" y="373.7" width="2.9" height="4.8" rx="1.1" fill="#000"/>
<rect x="95.85" y="386.2" width="2.9" height="5.3" rx="1.1" fill="#000"/>
<rect x="95.85" y="399.2" width="2.9" height="5.8" rx="1.1" fill="#000"/>
<rect x="100.64999999999999" y="409.2" width="2.9" height="5.4" rx="1.1" fill="#000"/>
<rect x="100.64999999999999" y="422.7" width="2.9" height="5.3" rx="1.1" fill="#000"/>
<rect x="111.7" y="426.4" width="6.8" height="2.2" rx="1.1" fill="#000"/>
<rect x="121.05" y="432.3" width="2.9" height="5.4" rx="1.1" fill="#000"/>
<rect x="120.75" y="445.6" width="2.9" height="3.9" rx="1.1" fill="#000"/>
<rect x="121" y="447.29999999999995" width="4.7" height="2.2" rx="1.1" fill="#000"/>
<rect x="135.6" y="447.5" width="5.9" height="2.2" rx="1.1" fill="#000"/>
<rect x="147.55" y="450.6" width="2.9" height="5.2" rx="1.1" fill="#000"/>
<rect x="147.55" y="464.6" width="2.9" height="5.6" rx="1.1" fill="#000"/>
<rect x="158.7" y="468.7" width="5.9" height="2.2" rx="1.1" fill="#000"/>
<rect x="174.2" y="468.7" width="5.8" height="2.2" rx="1.1" fill="#000"/>
<rect x="189.6" y="468.7" width="6.2" height="2.2" rx="1.1" fill="#000"/>
<rect x="205.5" y="468.7" width="6.2" height="2.2" rx="1.1" fill="#000"/>
<rect x="221.3" y="468.7" width="5.8" height="2.2" rx="1.1" fill="#000"/>
<rect x="237" y="468.7" width="6.4" height="2.2" rx="1.1" fill="#000"/>
<rect x="252" y="468.7" width="6.8" height="2.2" rx="1.1" fill="#000"/>
<rect x="267.5" y="468.7" width="6.7" height="2.2" rx="1.1" fill="#000"/>
<line x1="234.29999999999998" y1="469.8" x2="239.1" y2="469.8" stroke="#000" stroke-width="1.5" stroke-linecap="butt"/>
<line x1="236.7" y1="467.40000000000003" x2="236.7" y2="472.2" stroke="#000" stroke-width="1.5" stroke-linecap="butt"/>
<line x1="244.29999999999998" y1="469.8" x2="249.1" y2="469.8" stroke="#000" stroke-width="1.5" stroke-linecap="butt"/>
<line x1="246.7" y1="467.40000000000003" x2="246.7" y2="472.2" stroke="#000" stroke-width="1.5" stroke-linecap="butt"/>
<rect x="274.95" y="476.5" width="2.9" height="5.5" rx="1.1" fill="#000"/>
<rect x="274.95" y="489.8" width="2.9" height="5.6" rx="1.1" fill="#000"/>
<rect x="274.95" y="504.2" width="2.9" height="5.2" rx="1.1" fill="#000"/>
<rect x="283" y="510.09999999999997" width="6.4" height="2.2" rx="1.1" fill="#000"/>
<rect x="299" y="510.09999999999997" width="6.8" height="2.2" rx="1.1" fill="#000"/>
<line x1="306.9" y1="511.2" x2="311.5" y2="511.2" stroke="#000" stroke-width="1.5" stroke-linecap="butt"/>
<line x1="309.2" y1="508.9" x2="309.2" y2="513.5" stroke="#000" stroke-width="1.5" stroke-linecap="butt"/>
<path d="M51.2,328.9 H58.4 V334 H65.5 V341 H67 V349 H68.5 V355.6 H97.7 V360.4 H107.3 V366.3 H112.1 V371.5 H117.2 V377 H153 V387.3 H206.2 V393.5 H220.6 V399.6 H250 V401" fill="none" stroke="#000" stroke-width="2.4" stroke-linejoin="miter"/>
<path d="M250,400 V405.5 H266 V409.3 H267.7 V413.6 H269.4 V419 H302.7 V425.4 H350.2 V431.6 H352" fill="none" stroke="#000" stroke-width="2.1" stroke-linejoin="miter"/>
<line x1="351" y1="431.6" x2="507" y2="431.6" stroke="#000" stroke-width="2.05" stroke-linecap="butt"/>
<line x1="87.1" y1="353.8" x2="87.1" y2="359.2" stroke="#000" stroke-width="1.4" stroke-linecap="butt"/>
<line x1="171.3" y1="386.3" x2="196.3" y2="386.3" stroke="#fff" stroke-width="0.5" stroke-linecap="butt"/>
<line x1="171.3" y1="388.3" x2="196.3" y2="388.3" stroke="#fff" stroke-width="0.5" stroke-linecap="butt"/>
<line x1="233" y1="398.6" x2="248.3" y2="398.6" stroke="#fff" stroke-width="0.5" stroke-linecap="butt"/>
<line x1="233" y1="400.6" x2="248.3" y2="400.6" stroke="#fff" stroke-width="0.5" stroke-linecap="butt"/>
<line x1="170.4" y1="384.6" x2="170.4" y2="390" stroke="#000" stroke-width="1.2" stroke-linecap="butt"/>
<line x1="187.3" y1="384.6" x2="187.3" y2="390" stroke="#000" stroke-width="1.2" stroke-linecap="butt"/>
<line x1="197" y1="384.6" x2="197" y2="390" stroke="#000" stroke-width="1.2" stroke-linecap="butt"/>
<line x1="241.7" y1="397" x2="241.7" y2="402.2" stroke="#000" stroke-width="1.2" stroke-linecap="butt"/>
<line x1="244.6" y1="397" x2="244.6" y2="402.2" stroke="#000" stroke-width="1.2" stroke-linecap="butt"/>
<line x1="248.8" y1="397" x2="248.8" y2="402.2" stroke="#000" stroke-width="1.2" stroke-linecap="butt"/>
<line x1="302.2" y1="415.4" x2="302.2" y2="420" stroke="#000" stroke-width="1.2" stroke-linecap="butt"/>
<line x1="401.7" y1="428.8" x2="401.7" y2="434.5" stroke="#000" stroke-width="1.4" stroke-linecap="butt"/>
<line x1="407.3" y1="428.8" x2="407.3" y2="434.5" stroke="#000" stroke-width="1.4" stroke-linecap="butt"/>
<line x1="414" y1="428.8" x2="414" y2="434.5" stroke="#000" stroke-width="1.4" stroke-linecap="butt"/>
<line x1="429.2" y1="428.8" x2="429.2" y2="434.5" stroke="#000" stroke-width="1.4" stroke-linecap="butt"/>
<line x1="444.6" y1="428.8" x2="444.6" y2="434.5" stroke="#000" stroke-width="1.4" stroke-linecap="butt"/>
<line x1="458.8" y1="428.8" x2="458.8" y2="434.5" stroke="#000" stroke-width="1.4" stroke-linecap="butt"/>
<line x1="471.5" y1="428.8" x2="471.5" y2="434.5" stroke="#000" stroke-width="1.4" stroke-linecap="butt"/>
<line x1="259.5" y1="352" x2="283.7" y2="352" stroke="#000" stroke-width="2.2" stroke-linecap="butt"/>
<rect x="259.5" y="366.35" width="3.5" height="2.3" rx="1.1" fill="#000"/>
<rect x="267" y="366.35" width="5.5" height="2.3" rx="1.1" fill="#000"/>
<rect x="276.3" y="366.35" width="4.2" height="2.3" rx="1.1" fill="#000"/>
<text x="293.5" y="356.3" font-size="12" font-weight="bold" text-anchor="start"  stroke="#000" stroke-width="0.2" textLength="146.2" lengthAdjust="spacingAndGlyphs">Methylation of 0-1 gene</text>
<text x="293.5" y="372.1" font-size="12" font-weight="bold" text-anchor="start"  stroke="#000" stroke-width="0.2" textLength="142.2" lengthAdjust="spacingAndGlyphs">Methylation of &gt;1 gene</text>
<text x="323.6" y="390" font-size="12" font-weight="bold" stroke="#000" stroke-width="0.2" textLength="42.8" lengthAdjust="spacingAndGlyphs"><tspan font-style="italic">P</tspan>=0.02</text>
</svg>
</body></html>
